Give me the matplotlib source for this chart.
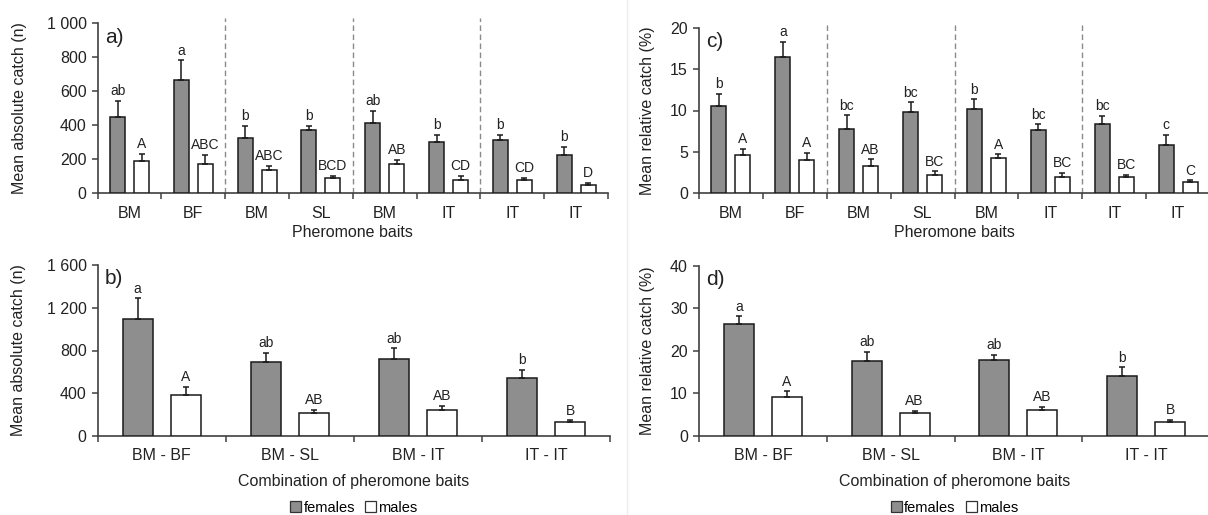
import numpy as np
import matplotlib
matplotlib.use('Agg')
import matplotlib.pyplot as plt
from matplotlib.patches import Patch
from matplotlib.lines import Line2D

plt.rcParams['font.family'] = ['Liberation Sans', 'DejaVu Sans']

# top panels: single baits
baits = ['BM', 'BF', 'BM', 'SL', 'BM', 'IT', 'IT', 'IT']
abs_f = [445, 665, 325, 370, 410, 301, 311, 223]
abs_f_err = [98, 116, 69, 24, 72, 38, 28, 49]
abs_m = [187, 169, 132, 85, 168, 77, 77, 45]
abs_m_err = [41, 53, 27, 15, 25, 22, 10, 14]
abs_f_lab = ['ab', 'a', 'b', 'b', 'ab', 'b', 'b', 'b']
abs_m_lab = ['A', 'ABC', 'ABC', 'BCD', 'AB', 'CD', 'CD', 'D']

rel_f = [10.6, 16.5, 7.8, 9.8, 10.15, 7.6, 8.3, 5.8]
rel_f_err = [1.4, 1.8, 1.6, 1.2, 1.2, 0.7, 1.0, 1.2]
rel_m = [4.6, 4.0, 3.25, 2.15, 4.25, 1.9, 1.9, 1.25]
rel_m_err = [0.7, 0.8, 0.8, 0.45, 0.4, 0.5, 0.25, 0.25]
rel_f_lab = ['b', 'a', 'bc', 'bc', 'b', 'bc', 'bc', 'c']
rel_m_lab = ['A', 'A', 'AB', 'BC', 'A', 'BC', 'BC', 'C']

# bottom panels: combinations
combos = ['BM - BF', 'BM - SL', 'BM - IT', 'IT - IT']
cabs_f = [1092, 690, 720, 543]
cabs_f_err = [196, 89, 100, 75]
cabs_m = [381, 218, 243, 131]
cabs_m_err = [80, 25, 41, 16]
cabs_f_lab = ['a', 'ab', 'ab', 'b']
cabs_m_lab = ['A', 'AB', 'AB', 'B']

crel_f = [26.2, 17.6, 17.9, 14.0]
crel_f_err = [1.9, 2.2, 1.1, 2.1]
crel_m = [9.2, 5.5, 6.0, 3.3]
crel_m_err = [1.3, 0.4, 0.9, 0.4]
crel_f_lab = ['a', 'ab', 'ab', 'b']
crel_m_lab = ['A', 'AB', 'AB', 'B']

W, H = 1208, 515
fig = plt.figure(figsize=(W / 100, H / 100), dpi=100)

def px_axes(x0, x1, ytop, ybot):
    return fig.add_axes([x0 / W, 1 - ybot / H, (x1 - x0) / W, (ybot - ytop) / H])

ax_a = px_axes(97.7, 608, 23.3, 192.7)
ax_c = px_axes(699, 1210, 28.3, 192.7)
ax_b = px_axes(97.7, 610, 265, 436)
ax_d = px_axes(699, 1210, 265.7, 436)

spine_col = '#404040'
fem_col = '#8e8e8e'
txt_col = '#222222'

def draw(ax, cats, f, fe, m, me, flab, mlab, ymax, ystep, yfmt, ylabel, xlabel,
         letter, dashed, tick_pad, xlab_y, ylab_x):
    n = len(cats)
    x = np.arange(n) + 0.5
    off, w = 0.188, 0.235
    ax.bar(x - off, f, w, color=fem_col, edgecolor='#1a1a1a', linewidth=1.1, zorder=3)
    ax.bar(x + off, m, w, color='white', edgecolor='#1a1a1a', linewidth=1.1, zorder=3)
    ax.errorbar(x - off, f, yerr=[np.zeros(n), fe], fmt='none', ecolor='#1a1a1a',
                elinewidth=1.1, capsize=2.3, capthick=1.1, zorder=4)
    ax.errorbar(x + off, m, yerr=[np.zeros(n), me], fmt='none', ecolor='#1a1a1a',
                elinewidth=1.1, capsize=2.3, capthick=1.1, zorder=4)
    for i in range(n):
        ax.annotate(flab[i], (x[i] - off, f[i] + fe[i]), xytext=(0, 2),
                    textcoords='offset points', ha='center', va='bottom',
                    fontsize=10, color=txt_col)
        ax.annotate(mlab[i], (x[i] + off, m[i] + me[i]), xytext=(0, 2),
                    textcoords='offset points', ha='center', va='bottom',
                    fontsize=10, color=txt_col)
    for b in dashed:
        ax.axvline(b, ymin=0, ymax=1.03, color='#8a8a8a', linestyle=(0, (4, 2.5)),
                   linewidth=1.0, clip_on=False, zorder=1)
    ax.set_xlim(0, n)
    ax.set_ylim(0, ymax)
    yt = np.arange(0, ymax + ystep / 2, ystep)
    ax.set_yticks(yt)
    ax.set_yticklabels([yfmt(v) for v in yt])
    ax.set_xticks(x)
    ax.set_xticklabels(cats)
    ax.set_xticks(np.arange(n + 1), minor=True)
    ax.tick_params(axis='x', which='major', length=0, pad=tick_pad, labelsize=11.5,
                   labelcolor=txt_col)
    ax.tick_params(axis='x', which='minor', length=4, width=1.1, color=spine_col,
                   direction='out')
    ax.tick_params(axis='y', length=4, width=1.1, color=spine_col, labelsize=11.5,
                   labelcolor=txt_col, pad=4)
    for s in ['top', 'right']:
        ax.spines[s].set_visible(False)
    for s in ['left', 'bottom']:
        ax.spines[s].set_color(spine_col)
        ax.spines[s].set_linewidth(1.2)
    ax.set_ylabel(ylabel, fontsize=11.5, color=txt_col)
    ax.yaxis.set_label_coords(ylab_x, 0.5)
    ax.set_xlabel(xlabel, fontsize=11.5, color=txt_col)
    ax.xaxis.set_label_coords(0.5, xlab_y)
    ax.text(0.014, 0.975, letter, transform=ax.transAxes, ha='left', va='top',
            fontsize=15, color=txt_col)

def thousands(v):
    return '{:,.0f}'.format(v).replace(',', ' ')

def plain(v):
    return '{:.0f}'.format(v)

draw(ax_a, baits, abs_f, abs_f_err, abs_m, abs_m_err, abs_f_lab, abs_m_lab,
     1000, 200, thousands, 'Mean absolute catch (n)', 'Pheromone baits', 'a)',
     [2, 4, 6], 9.5, -0.19, -0.139)
draw(ax_c, baits, rel_f, rel_f_err, rel_m, rel_m_err, rel_f_lab, rel_m_lab,
     20, 5, plain, 'Mean relative catch (%)', 'Pheromone baits', 'c)',
     [2, 4, 6], 9.5, -0.196, -0.086)
draw(ax_b, combos, cabs_f, cabs_f_err, cabs_m, cabs_m_err, cabs_f_lab, cabs_m_lab,
     1600, 400, thousands, 'Mean absolute catch (n)', 'Combination of pheromone baits', 'b)',
     [], 9, -0.225, -0.139)
draw(ax_d, combos, crel_f, crel_f_err, crel_m, crel_m_err, crel_f_lab, crel_m_lab,
     40, 10, plain, 'Mean relative catch (%)', 'Combination of pheromone baits', 'd)',
     [], 9, -0.225, -0.086)

handles = [Patch(facecolor=fem_col, edgecolor='#333333', linewidth=0.9, label='females'),
           Patch(facecolor='white', edgecolor='#333333', linewidth=0.9, label='males')]
for ax in (ax_b, ax_d):
    ax.legend(handles=handles, loc='center', bbox_to_anchor=(0.5, -0.42), ncol=2,
              frameon=False, handlelength=0.75, handleheight=0.75, handletextpad=0.15,
              columnspacing=0.7, fontsize=10.5, borderaxespad=0)

# faint separator between left and right halves
fig.add_artist(Line2D([627 / W, 627 / W], [0, 1], color='#ececec', linewidth=1.0))

fig.savefig('out.png', dpi=100)
